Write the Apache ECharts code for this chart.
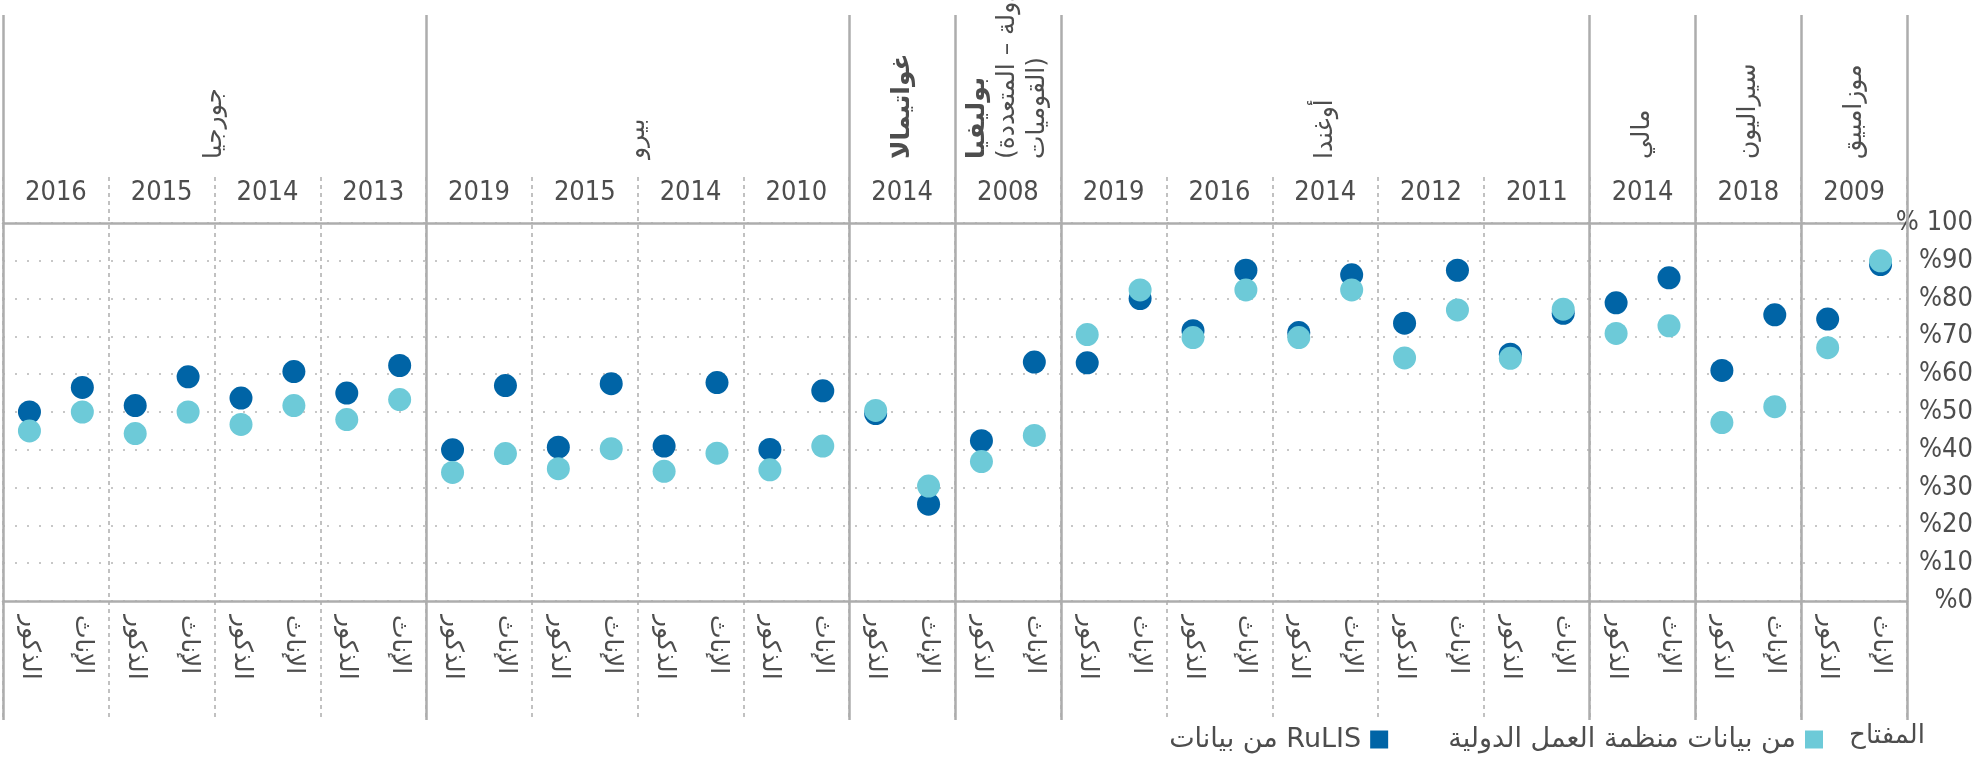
<!DOCTYPE html>
<html lang="ar">
<head>
<meta charset="utf-8">
<script src="https://cdn.jsdelivr.net/npm/echarts@6/dist/echarts.min.js"></script>
<style>html,body{margin:0;padding:0;background:#fff}#c{width:1976px;height:760px}</style>
</head>
<body>
<div id="c"></div>
<script>
// ---- data (columns ordered right to left, as in the chart) ----
const countries = ['موزامبيق', 'سيراليون', 'مالي', 'أوغندا', 'بوليفيا\n(دولة – المتعددة\nالقوميات)', 'غواتيمالا', 'بيرو', 'جورجيا'];
const boldCountries = ['بوليفيا\n(دولة – المتعددة\nالقوميات)', 'غواتيمالا'];
const countryYears = [
  [2009],
  [2018],
  [2014],
  [2011, 2012, 2014, 2016, 2019],
  [2008],
  [2014],
  [2010, 2014, 2015, 2019],
  [2013, 2014, 2015, 2016]
];
const sexLabels = ['الإناث', 'الذكور']; // per column, right slot first
const rulisMale   = [74.6, 61.0, 78.9, 65.3, 73.5, 71.0, 71.5, 63.0, 42.4, 49.6, 40.1, 41.0, 40.7, 40.0, 55.0, 53.7, 51.7, 50.0];
const rulisFemale = [89.0, 75.7, 85.5, 76.1, 87.5, 86.3, 87.5, 80.0, 63.2, 25.6, 55.6, 57.8, 57.5, 57.0, 62.3, 60.7, 59.3, 56.5];
const iloMale     = [67.0, 47.2, 70.8, 64.2, 64.3, 69.7, 69.7, 70.5, 36.9, 50.4, 34.7, 34.3, 35.0, 34.0, 48.0, 46.7, 44.3, 45.0];
const iloFemale   = [90.0, 51.4, 72.8, 77.2, 77.0, 82.3, 82.3, 82.3, 43.8, 30.4, 41.0, 39.1, 40.3, 39.0, 53.3, 51.7, 50.0, 50.0];
const seriesNames = ['من بيانات RuLIS', 'من بيانات منظمة العمل الدولية'];
const legendTitle = 'المفتاح';

// ---- derived structures ----
const years = [];
countryYears.forEach(ys => ys.forEach(y => years.push(String(y))));
const nCols = years.length;
const slots = [];
for (let i = 0; i < nCols; i++) { slots.push(sexLabels[0]); slots.push(sexLabels[1]); }
function interleave(male, female) {
  const out = [];
  for (let i = 0; i < male.length; i++) { out.push(female[i]); out.push(male[i]); }
  return out;
}
const rulisData = interleave(rulisMale, rulisFemale);
const iloData = interleave(iloMale, iloFemale);
const boundaries = [0];
const centers = {};
let acc = 0;
countryYears.forEach((ys, k) => {
  centers[acc + ys.length / 2] = countries[k];
  acc += ys.length;
  boundaries.push(acc);
});
const centerValues = Object.keys(centers).map(Number);

const FONT = "'Liberation Sans Narrow', 'DejaVu Sans Condensed', 'DejaVu Sans', sans-serif";
const AR = "'DejaVu Sans', sans-serif";
const TXT = '#4d4d4d';
const LINE = '#adadad';
const DARK = '#0064a6';
const LIGHT = '#6dcad8';

const L = 3, R = 1976 - 1907;
const gridBase = { left: L, right: R, containLabel: false, outerBoundsMode: 'none' };
const chart = echarts.init(document.getElementById('c'), null, { renderer: 'canvas' });
chart.setOption({
  backgroundColor: '#fff',
  animation: false,
  title: {
    text: legendTitle, right: 46, top: 718,
    textStyle: { fontFamily: AR, fontSize: 26, fontWeight: 'normal', color: TXT }
  },
  legend: {
    data: [seriesNames[0], seriesNames[1]],
    right: 148, top: 721, itemGap: 60, itemWidth: 18, itemHeight: 18,
    align: 'right', icon: 'rect',
    textStyle: { fontFamily: AR, fontSize: 27, color: TXT, padding: [0, 4, 0, 4] }
  },
  grid: [
    Object.assign({ top: 223, height: 378 }, gridBase),
    Object.assign({ top: 15, height: 705 }, gridBase),
    Object.assign({ top: 177, height: 543 }, gridBase)
  ],
  xAxis: [
    { // sex labels (bottom), 0% line
      type: 'category', gridIndex: 0, data: slots, inverse: true, position: 'bottom',
      axisLine: { show: true, lineStyle: { color: LINE, width: 2.5 } },
      axisTick: { show: false },
      axisLabel: { interval: 0, rotate: -90, margin: 14, fontFamily: AR, fontSize: 25, color: TXT }
    },
    { // years (top), 100% line
      type: 'category', gridIndex: 0, data: years, inverse: true, position: 'top',
      axisLine: { show: true, lineStyle: { color: LINE, width: 2.5 } },
      axisTick: { show: false },
      axisLabel: { interval: 0, margin: 17, fontFamily: FONT, fontSize: 27, color: TXT }
    },
    { // country names (top)
      type: 'value', gridIndex: 0, min: 0, max: nCols, inverse: true, position: 'top',
      axisLine: { show: false }, axisTick: { show: false }, splitLine: { show: false },
      axisLabel: {
        customValues: centerValues, rotate: -90, margin: 64,
        fontFamily: AR, fontSize: 25, color: TXT, lineHeight: 30,
        formatter: v => {
          const name = centers[v] || '';
          const parts = name.split('\n');
          if (boldCountries.indexOf(name) >= 0) {
            return '{b|' + parts[0] + '}' + (parts.length > 1 ? '\n' + parts.slice(1).join('\n') : '');
          }
          return name;
        },
        rich: { b: { fontFamily: AR, fontSize: 25, fontWeight: 'bold', color: TXT, lineHeight: 30 } }
      }
    },
    { // solid separators grid
      type: 'value', gridIndex: 1, min: 0, max: nCols, inverse: true, show: false
    },
    { // dashed separators grid
      type: 'value', gridIndex: 2, min: 0, max: nCols, interval: 1, inverse: true,
      axisLine: { show: false }, axisTick: { show: false }, axisLabel: { show: false },
      splitLine: { show: true, lineStyle: { color: LINE, width: 1.5, type: [4, 4] } }
    }
  ],
  yAxis: [
    {
      type: 'value', gridIndex: 0, min: 0, max: 100, interval: 10, position: 'right',
      axisLine: { show: false }, axisTick: { show: false },
      splitLine: { show: true, lineStyle: { color: '#b5b5b5', width: 1.6, type: [2, 10] } },
      axisLabel: {
        align: 'right', margin: 66, fontFamily: FONT, fontSize: 27, color: TXT,
        formatter: v => (v === 100 ? '% 100' : '%' + v)
      }
    },
    { type: 'value', gridIndex: 1, min: 0, max: 1, show: false },
    { type: 'value', gridIndex: 2, min: 0, max: 1, show: false }
  ],
  series: [
    {
      name: 'sep', type: 'line', xAxisIndex: 3, yAxisIndex: 1, data: [], silent: true,
      markLine: {
        silent: true, symbol: 'none', label: { show: false },
        lineStyle: { color: LINE, width: 2.5, type: 'solid' },
        data: boundaries.map(b => ({ xAxis: b }))
      }
    },
    {
      name: seriesNames[0], type: 'scatter', xAxisIndex: 0, yAxisIndex: 0,
      data: rulisData, symbolSize: 23, itemStyle: { color: DARK, opacity: 1 }
    },
    {
      name: seriesNames[1], type: 'scatter', xAxisIndex: 0, yAxisIndex: 0,
      data: iloData, symbolSize: 23, itemStyle: { color: LIGHT, opacity: 1 }
    }
  ]
});
</script>
</body>
</html>
